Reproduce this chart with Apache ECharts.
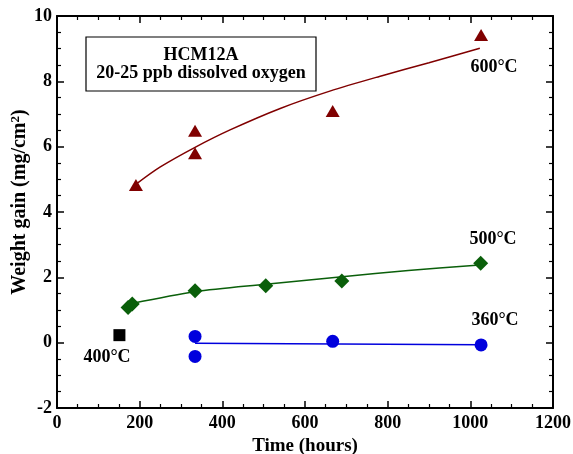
<!DOCTYPE html>
<html><head><meta charset="utf-8">
<script src="https://cdn.jsdelivr.net/npm/echarts@6/dist/echarts.min.js"></script>
<style>html,body{margin:0;padding:0;background:#fff}#c{width:573px;height:454px}</style>
</head><body><div id="c"></div>
<script>
// Measured points [time (h), weight gain (mg/cm2)]
const pts600 = [[191, 4.83], [334, 6.49], [334, 5.8], [667, 7.09], [1026, 9.42]];
const fit600 = [[193, 4.87], [250, 5.38], [334, 5.98], [420, 6.52], [540, 7.17], [660, 7.7], [780, 8.15], [900, 8.57], [1023, 9.01]];
const pts500 = [[172, 1.08], [182, 1.18], [334, 1.59], [505, 1.74], [689, 1.89], [1025, 2.43]];
const fit500 = [[181, 1.2], [334, 1.56], [505, 1.79], [690, 2.02], [850, 2.21], [1023, 2.38]];
const pts360 = [[334, 0.19], [334, -0.42], [667, 0.04], [1026, -0.07]];
const fit360 = [[334, -0.02], [1026, -0.06]];
const pts400 = [[151, 0.23]];
const xTicks = [0, 200, 400, 600, 800, 1000, 1200];
const yTicks = [-2, 0, 2, 4, 6, 8, 10];

const FONT = '"Liberation Serif", "Times New Roman", serif';
const c600 = '#800000', c500 = '#0a5f0a', c360 = '#0000dd';

const chart = echarts.init(document.getElementById('c'));
const axisBase = {
  axisLine: {show: true, onZero: false, lineStyle: {color: '#000', width: 2}},
  axisTick: {show: true, inside: true, length: 7, lineStyle: {color: '#000', width: 1.5}},
  minorTick: {show: true, splitNumber: 4, length: 4, lineStyle: {color: '#000', width: 1.2}},
  splitLine: {show: false}
};
const fmt = v => String(v);
chart.setOption({
  animation: false,
  grid: {left: 57, right: 20, top: 16, bottom: 46, outerBoundsMode: 'none', containLabel: false},
  xAxis: [
    Object.assign({type: 'value', min: xTicks[0], max: xTicks[xTicks.length-1], interval: 200, position: 'bottom',
      name: 'Time (hours)', nameLocation: 'middle', nameGap: 27,
      nameTextStyle: {fontFamily: FONT, fontWeight: 'bold', fontSize: 19, color: '#000'},
      axisLabel: {fontFamily: FONT, fontWeight: 'bold', fontSize: 18, color: '#000', margin: 6, formatter: fmt}}, axisBase),
    Object.assign({type: 'value', min: xTicks[0], max: xTicks[xTicks.length-1], interval: 200, position: 'top',
      axisLabel: {show: false}}, axisBase)
  ],
  yAxis: [
    Object.assign({type: 'value', min: yTicks[0], max: yTicks[yTicks.length-1], interval: 2, position: 'left',
      axisLabel: {fontFamily: FONT, fontWeight: 'bold', fontSize: 18, color: '#000', margin: 5, formatter: fmt}}, axisBase),
    Object.assign({type: 'value', min: yTicks[0], max: yTicks[yTicks.length-1], interval: 2, position: 'right',
      axisLabel: {show: false}}, axisBase)
  ],
  series: [
    {type: 'line', data: fit600, smooth: 0.3, symbol: 'none', lineStyle: {color: c600, width: 1.5}, z: 2},
    {type: 'scatter', data: pts600, symbol: 'triangle', symbolSize: [14, 12], itemStyle: {color: c600, opacity: 1}, z: 3},
    {type: 'line', data: fit500, smooth: 0.3, symbol: 'none', lineStyle: {color: c500, width: 1.5}, z: 2},
    {type: 'scatter', data: pts500, symbol: 'diamond', symbolSize: [15, 15], itemStyle: {color: c500, opacity: 1}, z: 3},
    {type: 'line', data: fit360, symbol: 'none', lineStyle: {color: c360, width: 1.5}, z: 2},
    {type: 'scatter', data: pts360, symbol: 'circle', symbolSize: 13, itemStyle: {color: c360, opacity: 1}, z: 3},
    {type: 'scatter', data: pts400, symbol: 'rect', symbolSize: 12, itemStyle: {color: '#000', opacity: 1}, z: 3}
  ],
  graphic: [
    {type: 'text', x: 20, y: 202, rotation: Math.PI / 2, style: {
      text: 'Weight gain (mg/cm{s|2})', font: 'bold 20px ' + FONT, fill: '#000', align: 'center', verticalAlign: 'middle',
      rich: {s: {fontFamily: FONT, fontWeight: 'bold', fontSize: 13, verticalAlign: 'top', padding: [0, 0, 8, 0], fill: '#000'}}}, z: 11},
    {type: 'rect', shape: {x: 86, y: 37, width: 230, height: 54}, style: {fill: '#fff', stroke: '#000', lineWidth: 1.2}, z: 10},
    {type: 'text', x: 201, y: 55, style: {text: 'HCM12A', font: 'bold 18px ' + FONT, fill: '#000', align: 'center', verticalAlign: 'middle'}, z: 11},
    {type: 'text', x: 201, y: 73, style: {text: '20-25 ppb dissolved oxygen', font: 'bold 18px ' + FONT, fill: '#000', align: 'center', verticalAlign: 'middle'}, z: 11},
    {type: 'text', x: 494, y: 67, style: {text: '600°C', font: 'bold 18px ' + FONT, fill: '#000', align: 'center', verticalAlign: 'middle'}, z: 11},
    {type: 'text', x: 493, y: 239, style: {text: '500°C', font: 'bold 18px ' + FONT, fill: '#000', align: 'center', verticalAlign: 'middle'}, z: 11},
    {type: 'text', x: 495, y: 320, style: {text: '360°C', font: 'bold 18px ' + FONT, fill: '#000', align: 'center', verticalAlign: 'middle'}, z: 11},
    {type: 'text', x: 107, y: 357, style: {text: '400°C', font: 'bold 18px ' + FONT, fill: '#000', align: 'center', verticalAlign: 'middle'}, z: 11}
  ]
});
</script></body></html>
